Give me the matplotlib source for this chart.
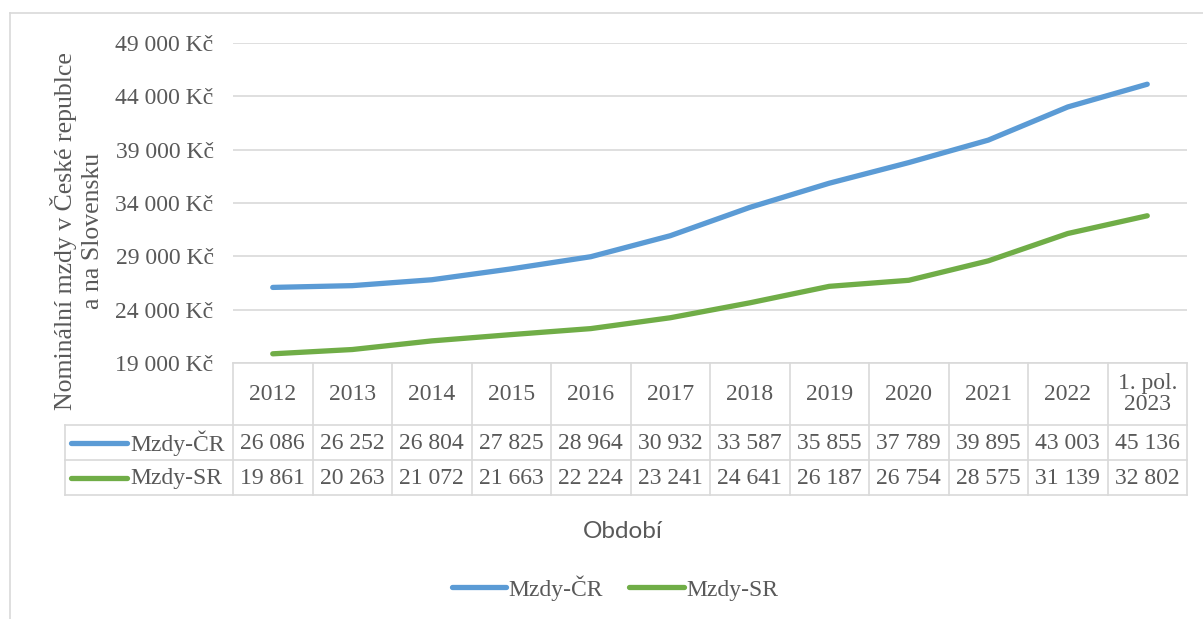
import matplotlib.pyplot as plt
from matplotlib.lines import Line2D

W, H = 1203, 619

categories = ['2012', '2013', '2014', '2015', '2016', '2017', '2018', '2019',
              '2020', '2021', '2022', '1. pol.\n2023']
mzdy_cr = [26086, 26252, 26804, 27825, 28964, 30932, 33587, 35855, 37789, 39895, 43003, 45136]
mzdy_sr = [19861, 20263, 21072, 21663, 22224, 23241, 24641, 26187, 26754, 28575, 31139, 32802]
series_names = ['Mzdy-ČR', 'Mzdy-SR']
yticks = [19000, 24000, 29000, 34000, 39000, 44000, 49000]

BLUE = '#5B9BD5'
GREEN = '#70AD47'
GRID = '#D9D9D9'
TXT = '#595959'
SERIF = 'Liberation Serif'
FS = 17


def fmt(v):
    return f'{v:,}'.replace(',', ' ')


def px(x0, y0, x1, y1):
    # pixel box (from top-left) -> figure fraction rect
    return [x0 / W, 1 - y1 / H, (x1 - x0) / W, (y1 - y0) / H]


fig = plt.figure(figsize=(W / 100, H / 100), dpi=100)

# outer chart border (only left and top visible in the crop)
fig.add_artist(Line2D([10 / W, 10 / W], [0, 1 - 13 / H], color=GRID, lw=1.2))
fig.add_artist(Line2D([10 / W, 1], [1 - 13 / H, 1 - 13 / H], color=GRID, lw=1.2))

n = len(categories)
xs = list(range(n))

ax = fig.add_axes(px(233, 43, 1187, 363))
ax.plot(xs, mzdy_cr, color=BLUE, lw=3.8, solid_capstyle='round')
ax.plot(xs, mzdy_sr, color=GREEN, lw=3.8, solid_capstyle='round')
ax.set_xlim(-0.5, n - 0.5)
ax.set_ylim(19000, 49000)
ax.set_yticks(yticks)
ax.set_yticklabels([fmt(v) + ' Kč' for v in yticks], fontfamily=SERIF,
                   fontsize=FS, color=TXT)
ax.tick_params(axis='y', length=0, pad=14)
ax.set_xticks([])
ax.grid(axis='y', color=GRID, lw=1.2)
ax.set_axisbelow(True)
for s in ax.spines.values():
    s.set_visible(False)

# data table below the plot
col_w = 954 / n
left_cols = 168 / col_w
tab = fig.add_axes(px(65, 363, 1187, 496))
tab.set_xlim(-0.5 - left_cols, n - 0.5)
tab.set_ylim(133, 0)
tab.axis('off')
xl = -0.5 - left_cols
rows = [0, 62, 97, 132]
lk = dict(color=GRID, lw=1.2, clip_on=False)
tab.plot([-0.5, n - 0.5], [0, 0], **lk)
for r in rows[1:]:
    tab.plot([xl, n - 0.5], [r, r], **lk)
for i in range(n + 1):
    tab.plot([i - 0.5, i - 0.5], [0, rows[-1]], **lk)
tab.plot([xl, xl], [rows[1], rows[-1]], **lk)

for i, c in enumerate(categories):
    tab.text(i, 31, c, ha='center', va='center', fontfamily=SERIF,
             fontsize=FS, color=TXT, linespacing=1.0)
for r, (name, vals, col) in enumerate(zip(series_names, [mzdy_cr, mzdy_sr], [BLUE, GREEN])):
    yc = (rows[r + 1] + rows[r + 2]) / 2
    tab.plot([xl + 6 / col_w, xl + 62 / col_w], [yc, yc], color=col, lw=3.8,
             solid_capstyle='round', clip_on=False)
    tab.text(xl + 65 / col_w, yc + 1, name, ha='left', va='center',
             fontfamily=SERIF, fontsize=FS, color=TXT)
    for i, v in enumerate(vals):
        tab.text(i, yc + 1, fmt(v), ha='center', va='center', fontfamily=SERIF,
                 fontsize=FS, color=TXT)

fig.text(77 / W, 1 - 231 / H, 'Nominální mzdy v České republce\na na Slovensku',
         rotation=90, ha='center', va='center', multialignment='center',
         fontfamily=SERIF, fontsize=18.5, color=TXT, linespacing=1.3)

fig.text(623 / W, 1 - 532 / H, 'Období', ha='center', va='center',
         fontfamily='Lato', fontsize=17.5, color=TXT)

handles = [Line2D([], [], color=BLUE, lw=3.8, solid_capstyle='round'),
           Line2D([], [], color=GREEN, lw=3.8, solid_capstyle='round')]
fig.legend(handles, series_names, loc='center', bbox_to_anchor=(615 / W, 1 - 588 / H),
           ncol=2, frameon=False, prop={'family': SERIF, 'size': FS},
           labelcolor=TXT, handlelength=2.3, handletextpad=0.1, columnspacing=1.1)

fig.savefig('out.png', dpi=100)
